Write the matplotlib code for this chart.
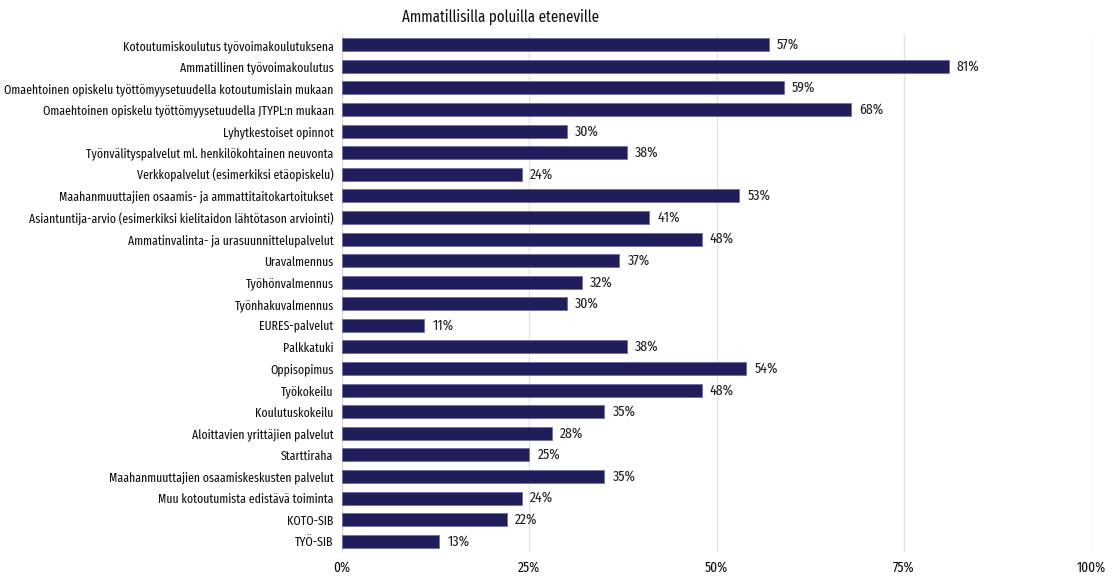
import matplotlib
matplotlib.use("Agg")
import matplotlib.pyplot as plt
from matplotlib.ticker import FuncFormatter

plt.rcParams['font.family'] = ['Fira Sans Extra Condensed', 'DejaVu Sans']

title = "Ammatillisilla poluilla eteneville"

categories = [
    "Kotoutumiskoulutus työvoimakoulutuksena",
    "Ammatillinen työvoimakoulutus",
    "Omaehtoinen opiskelu työttömyysetuudella kotoutumislain mukaan",
    "Omaehtoinen opiskelu työttömyysetuudella JTYPL:n mukaan",
    "Lyhytkestoiset opinnot",
    "Työnvälityspalvelut ml. henkilökohtainen neuvonta",
    "Verkkopalvelut (esimerkiksi etäopiskelu)",
    "Maahanmuuttajien osaamis- ja ammattitaitokartoitukset",
    "Asiantuntija-arvio (esimerkiksi kielitaidon lähtötason arviointi)",
    "Ammatinvalinta- ja urasuunnittelupalvelut",
    "Uravalmennus",
    "Työhönvalmennus",
    "Työnhakuvalmennus",
    "EURES-palvelut",
    "Palkkatuki",
    "Oppisopimus",
    "Työkokeilu",
    "Koulutuskokeilu",
    "Aloittavien yrittäjien palvelut",
    "Starttiraha",
    "Maahanmuuttajien osaamiskeskusten palvelut",
    "Muu kotoutumista edistävä toiminta",
    "KOTO-SIB",
    "TYÖ-SIB",
]
values = [57, 81, 59, 68, 30, 38, 24, 53, 41, 48, 37, 32, 30, 11,
          38, 54, 48, 35, 28, 25, 35, 24, 22, 13]
xticks = [0, 25, 50, 75, 100]

bar_color = "#1f1d5a"
edge_color = "#6f6fa8"

fig = plt.figure(figsize=(11.15, 5.77), dpi=100)
ax = fig.add_axes([342 / 1115, 1 - 552 / 577, (1091 - 342) / 1115, (552 - 34) / 577])

ypos = list(range(len(categories)))
ax.barh(ypos, values, height=0.6, color=bar_color, edgecolor=edge_color, linewidth=0.6, zorder=3)
# value labels just right of each bar end
for y, v in zip(ypos, values):
    ax.text(v + 1.1, y, f"{v}%", va="center", ha="left", fontsize=10.8, color="#222222")

ax.set_ylim(len(categories) - 0.5, -0.5)
ax.set_xlim(0, 100)
ax.set_yticks(ypos)
ax.set_yticklabels(categories, fontsize=9.2, color="#111111")
ax.set_xticks(xticks)
ax.xaxis.set_major_formatter(FuncFormatter(lambda v, p: f"{v:.0f}%"))
ax.tick_params(axis="x", labelsize=10.5, length=0, pad=6, colors="#111111")
ax.tick_params(axis="y", length=0, pad=6)
ax.grid(axis="x", color="#e3e3e3", linewidth=1, zorder=0)
for side in ["top", "right", "bottom"]:
    ax.spines[side].set_visible(False)
ax.spines["left"].set_color("#d9d9d9")

fig.text(500 / 1115, 1 - 17 / 577, title, ha="center", va="center", fontsize=11.7, color="#111111")

fig.savefig("out.png", dpi=100)
